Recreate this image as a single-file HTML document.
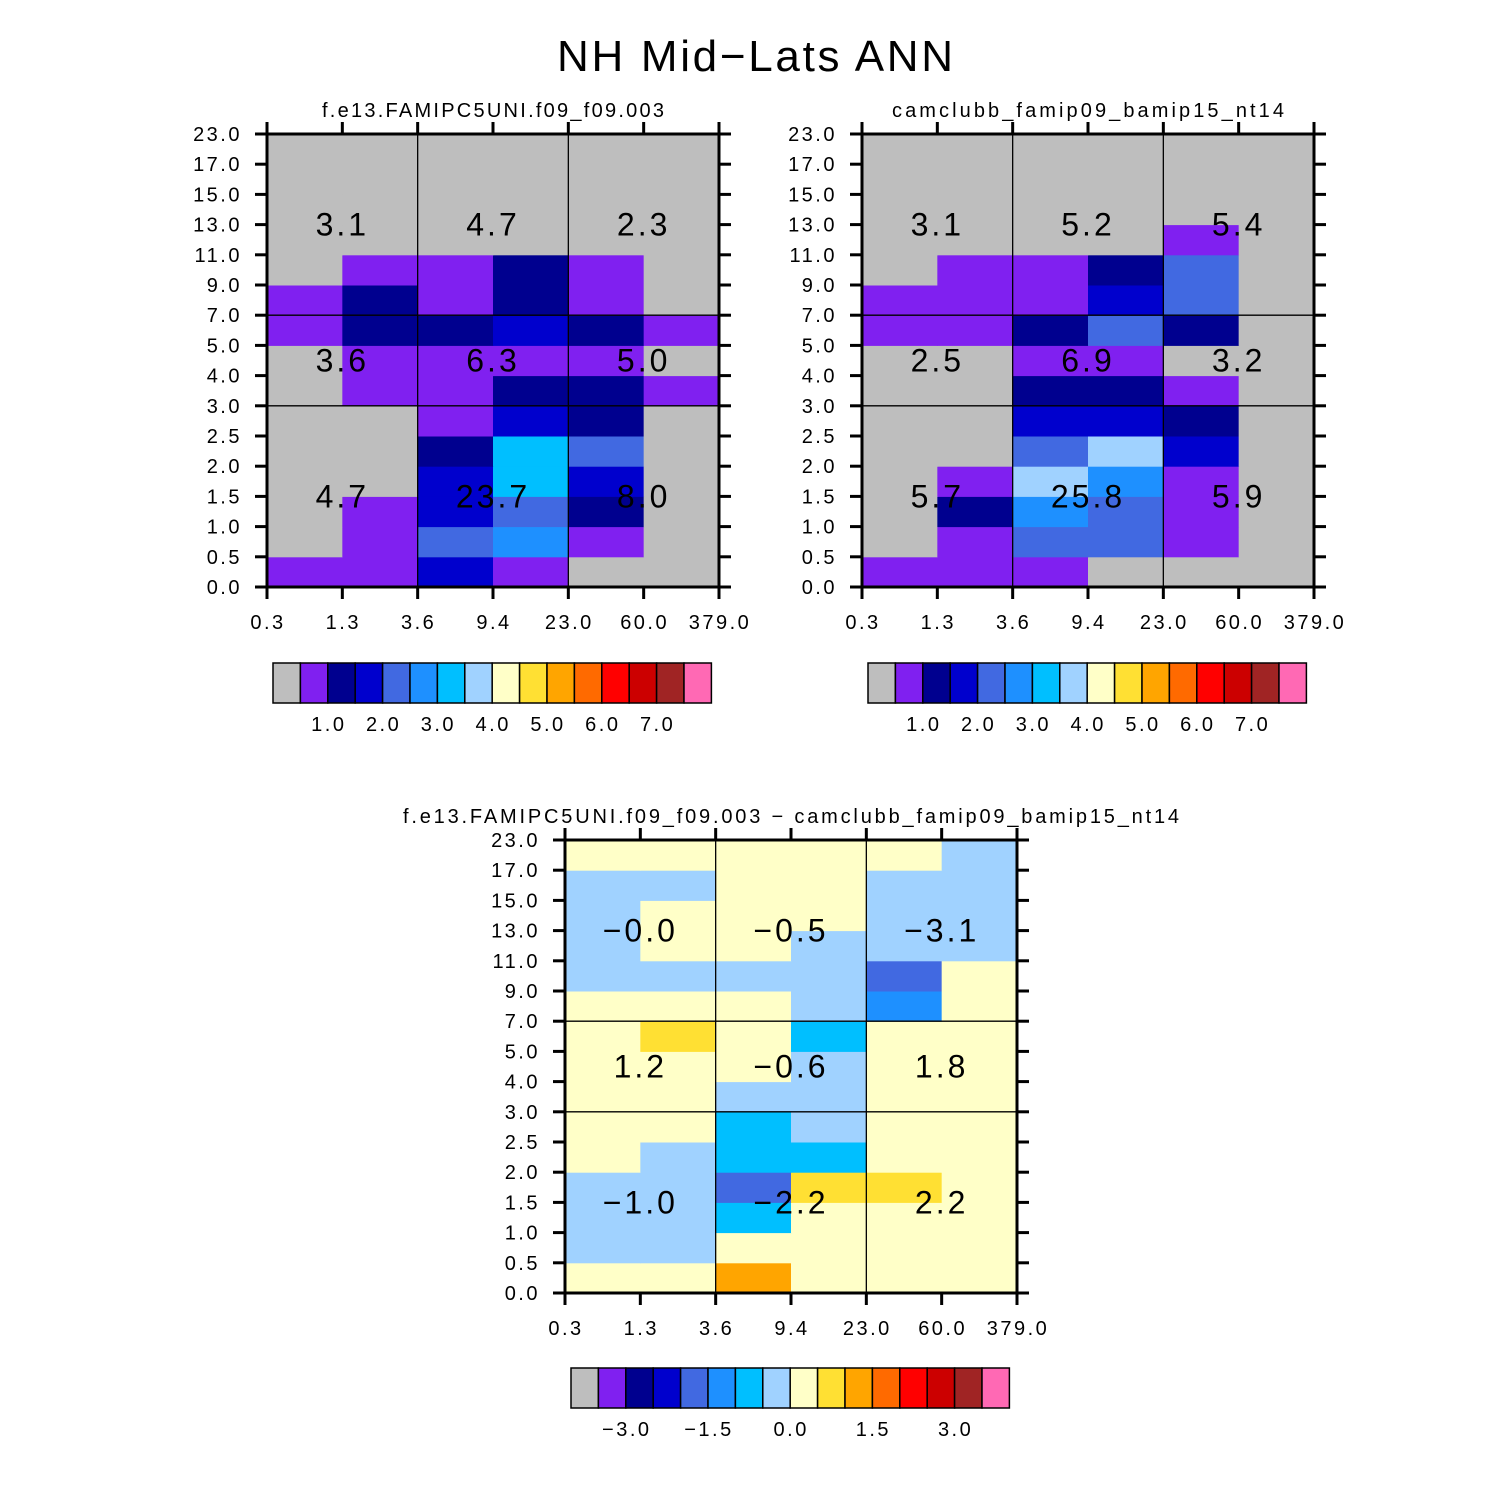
<!DOCTYPE html>
<html><head><meta charset="utf-8"><style>
html,body{margin:0;padding:0;background:#fff;}
svg{display:block;font-family:"Liberation Sans",sans-serif;}
</style></head><body>
<svg id="fig" width="1510" height="1510" viewBox="0 0 1510 1510" xmlns="http://www.w3.org/2000/svg">
<rect width="1510" height="1510" fill="#fff"/>
<text x="755" y="71" font-size="44" text-anchor="middle" fill="#000" textLength="396" lengthAdjust="spacing">NH Mid−Lats ANN</text>
</svg>
<script>
// ---- data ----
const xTickLabels = ["0.3","1.3","3.6","9.4","23.0","60.0","379.0"];
const yTickLabels = ["0.0","0.5","1.0","1.5","2.0","2.5","3.0","4.0","5.0","7.0","9.0","11.0","13.0","15.0","17.0","23.0"];
const paletteColors = ["#BEBEBE","#8020F0","#00008F","#0000CD","#4169E1","#1E90FF","#00BFFF","#A0D2FF","#FFFFC8","#FFE033","#FFA500","#FF6A00","#FF0000","#CC0000","#A02424","#FF69B4"];
// rows listed bottom (0-0.5) to top (17-23), 6 columns each
const ctlValues = [
 [0.7,0.7,1.7,0.7,0.2,0.2],
 [0.2,0.7,2.2,2.7,0.7,0.2],
 [0.2,0.7,1.7,2.2,1.2,0.2],
 [0.2,0.2,1.7,3.2,1.7,0.2],
 [0.2,0.2,1.2,3.2,2.2,0.2],
 [0.2,0.2,0.7,1.7,1.2,0.2],
 [0.2,0.7,0.7,1.2,1.2,0.7],
 [0.2,0.7,0.7,0.7,0.7,0.2],
 [0.7,1.2,1.2,1.7,1.2,0.7],
 [0.7,1.2,0.7,1.2,0.7,0.2],
 [0.2,0.7,0.7,1.2,0.7,0.2],
 [0.2,0.2,0.2,0.2,0.2,0.2],
 [0.2,0.2,0.2,0.2,0.2,0.2],
 [0.2,0.2,0.2,0.2,0.2,0.2],
 [0.2,0.2,0.2,0.2,0.2,0.2]];
const expValues = [
 [0.7,0.7,0.7,0.2,0.2,0.2],
 [0.2,0.7,2.2,2.2,0.7,0.2],
 [0.2,1.2,2.7,2.2,0.7,0.2],
 [0.2,0.7,3.7,2.7,0.7,0.2],
 [0.2,0.2,2.2,3.7,1.7,0.2],
 [0.2,0.2,1.7,1.7,1.2,0.2],
 [0.2,0.2,1.2,1.2,0.7,0.2],
 [0.2,0.2,0.7,0.7,0.2,0.2],
 [0.7,0.7,1.2,2.2,1.2,0.2],
 [0.7,0.7,0.7,1.7,2.2,0.2],
 [0.2,0.7,0.7,1.2,2.2,0.2],
 [0.2,0.2,0.2,0.2,0.7,0.2],
 [0.2,0.2,0.2,0.2,0.2,0.2],
 [0.2,0.2,0.2,0.2,0.2,0.2],
 [0.2,0.2,0.2,0.2,0.2,0.2]];
const diffValues = [
 [0.2,0.2,1.2,0.2,0.2,0.2],
 [-0.2,-0.2,0.2,0.2,0.2,0.2],
 [-0.2,-0.2,-0.8,0.2,0.2,0.2],
 [-0.2,-0.2,-1.7,0.7,0.7,0.2],
 [0.2,-0.2,-0.8,-0.8,0.2,0.2],
 [0.2,0.2,-0.8,-0.2,0.2,0.2],
 [0.2,0.2,-0.2,-0.2,0.2,0.2],
 [0.2,0.2,0.2,-0.2,0.2,0.2],
 [0.2,0.7,0.2,-0.8,0.2,0.2],
 [0.2,0.2,0.2,-0.2,-1.2,0.2],
 [-0.2,-0.2,-0.2,-0.2,-1.7,0.2],
 [-0.2,0.2,0.2,-0.2,-0.2,-0.2],
 [-0.2,0.2,0.2,0.2,-0.2,-0.2],
 [-0.2,-0.2,0.2,0.2,-0.2,-0.2],
 [0.2,0.2,0.2,0.2,0.2,-0.2]];
// region totals: rows low, mid, high ; cols thin, medium, thick
const ctlRegion = [["4.7","23.7","8.0"],["3.6","6.3","5.0"],["3.1","4.7","2.3"]];
const expRegion = [["5.7","25.8","5.9"],["2.5","6.9","3.2"],["3.1","5.2","5.4"]];
const diffRegion = [["−1.0","−2.2","2.2"],["1.2","−0.6","1.8"],["−0.0","−0.5","−3.1"]];
const ctlLevels = [0.5,1,1.5,2,2.5,3,3.5,4,4.5,5,5.5,6,6.5,7,7.5];
const diffLevels = [-3.5,-3,-2.5,-2,-1.5,-1,-0.5,0,0.5,1,1.5,2,2.5,3,3.5];
const ctlBarLabels = ["1.0","2.0","3.0","4.0","5.0","6.0","7.0"];
const diffBarLabels = ["−3.0","−1.5","0.0","1.5","3.0"];

const NS="http://www.w3.org/2000/svg";
const svg=document.getElementById('fig');
function mk(tag,attrs,parent){const e=document.createElementNS(NS,tag);for(const k in attrs)e.setAttribute(k,attrs[k]);(parent||svg).appendChild(e);return e;}
function colorIndex(v,levels){let i=0;while(i<levels.length&&v>=levels[i])i++;return i;}

function panel(name,px,py,title,titleLen,values,regions,levels,barLabels,barEvery,barOffset,cbx,cby){
  const W=452,H=453,nx=6,ny=15;
  const xs=i=>px+i*W/nx, ys=j=>py+H-j*H/ny;
  const g=mk('g',{});
  
  
  const t=mk('text',{x:px+W/2,y:py-17,'font-size':20,'text-anchor':'middle',textLength:titleLen,lengthAdjust:'spacing'},g);t.textContent=title;
  
  
  for(let j=0;j<ny;j++)for(let i=0;i<nx;i++){
    const c=mk('rect',{x:xs(i),y:ys(j+1),width:W/nx+0.5,height:H/ny+0.5,fill:paletteColors[colorIndex(values[j][i],levels)]},g);
    
    
  }
  [2,4].forEach(i=>mk('line',{x1:xs(i),y1:py,x2:xs(i),y2:py+H,stroke:'#000','stroke-width':1.3},g));
  [6,9].forEach(j=>mk('line',{x1:px,y1:ys(j),x2:px+W,y2:ys(j),stroke:'#000','stroke-width':1.3},g));
  const ry=[(0+6)/2,(6+9)/2,(9+15)/2];
  for(let r=0;r<3;r++)for(let c=0;c<3;c++){
    const tx=mk('text',{x:xs(2*c+1),y:ys(ry[r])+11,'font-size':32,'text-anchor':'middle',fill:'#000','letter-spacing':3},g);
    tx.textContent=regions[r][c];
    
    
  }
  mk('rect',{x:px,y:py,width:W,height:H,fill:'none',stroke:'#000','stroke-width':3},g);
  for(let j=0;j<=ny;j++){
    mk('line',{x1:px-12,y1:ys(j),x2:px,y2:ys(j),stroke:'#000','stroke-width':3},g);
    mk('line',{x1:px+W,y1:ys(j),x2:px+W+12,y2:ys(j),stroke:'#000','stroke-width':3},g);
    const l=mk('text',{x:px-25,y:ys(j)+7,'font-size':20,'text-anchor':'end','letter-spacing':2.5},g);l.textContent=yTickLabels[j];
    
    
  }
  for(let i=0;i<=nx;i++){
    mk('line',{x1:xs(i),y1:py+H,x2:xs(i),y2:py+H+12,stroke:'#000','stroke-width':3},g);
    mk('line',{x1:xs(i),y1:py-12,x2:xs(i),y2:py,stroke:'#000','stroke-width':3},g);
    const l=mk('text',{x:xs(i)+1,y:py+H+42,'font-size':20,'text-anchor':'middle','letter-spacing':2.5},g);l.textContent=xTickLabels[i];
    
    
  }
  const bw=27.4;
  const cb=mk('g',{},g);
  
  
  for(let k=0;k<paletteColors.length;k++){
    mk('rect',{x:cbx+k*bw,y:cby,width:bw,height:40,fill:paletteColors[k],stroke:'#000','stroke-width':1.5},cb);
  }
  barLabels.forEach((s,k)=>{
    const l=mk('text',{x:cbx+(barOffset+k*barEvery)*bw+1,y:cby+68,'font-size':20,'text-anchor':'middle','letter-spacing':2.5},cb);l.textContent=s;
    
    
  });
}
panel('control',267,134,'f.e13.FAMIPC5UNI.f09_f09.003',342,ctlValues,ctlRegion,ctlLevels,ctlBarLabels,2,2,273,663);
panel('experiment',862,134,'camclubb_famip09_bamip15_nt14',392,expValues,expRegion,ctlLevels,ctlBarLabels,2,2,868,663);
panel('difference',565,840,'f.e13.FAMIPC5UNI.f09_f09.003 − camclubb_famip09_bamip15_nt14',776,diffValues,diffRegion,diffLevels,diffBarLabels,3,2,571,1368);
</script>
</body></html>
